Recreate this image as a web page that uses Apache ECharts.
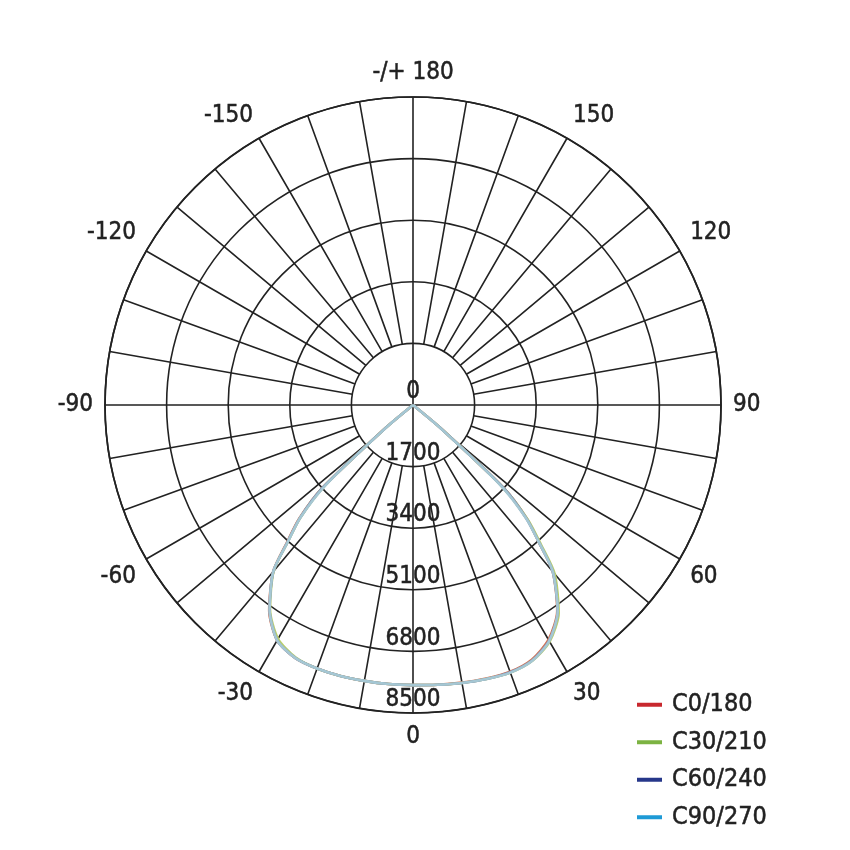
<!DOCTYPE html>
<html><head><meta charset="utf-8">
<script src="https://cdn.jsdelivr.net/npm/echarts@6/dist/echarts.min.js"></script>
<style>html,body{margin:0;padding:0;background:#fff}#c{width:850px;height:850px}</style>
</head><body><div id="c"></div>
<script>
// Gamma angles (degrees, 0 = downward)
const angles = [-180, -55, -50, -47.5, -45, -42.5, -40, -35, -30, -25, -20, -15, -10, -5, 0, 5, 10, 15, 20, 25, 30, 35, 40, 42.5, 45, 47.5, 50, 55, 180];
// Luminous intensity per C-plane (cd)
const c0_180  = [0, 0, 1050, 3400, 4450, 5150, 6000, 6920, 7500, 7700, 7740, 7740, 7730, 7730, 7730, 7750, 7780, 7815, 7835, 7755, 7480, 6940, 6000, 5150, 4450, 3400, 1050, 0, 0];
const c30_210 = [0, 0, 1000, 3350, 4400, 5100, 5980, 6880, 7450, 7680, 7740, 7740, 7730, 7730, 7730, 7750, 7790, 7830, 7860, 7790, 7540, 7010, 6080, 5230, 4480, 3380, 1050, 0, 0];
const c60_240 = [0, 0, 1000, 3400, 4420, 5120, 6000, 6900, 7500, 7700, 7740, 7740, 7730, 7730, 7730, 7750, 7790, 7830, 7850, 7780, 7510, 6960, 6000, 5150, 4420, 3400, 1000, 0, 0];
const c90_270 = [0, 0, 950, 3250, 4400, 5100, 6000, 6900, 7500, 7700, 7740, 7740, 7730, 7730, 7730, 7750, 7790, 7830, 7860, 7790, 7520, 6960, 6000, 5150, 4400, 3250, 950, 0, 0];
const seriesNames = ['C0/180', 'C30/210', 'C60/240', 'C90/270'];
const seriesValues = [c0_180, c30_210, c60_240, c90_270];
const radiusMax = 8500;
const radiusStep = 1700;

const legendColors = ['#c8282e', '#7cb342', '#26378a', '#1e9ad6'];
const curveColors = ['#d8704e', '#b9cf6c', '#8193bb', '#a5c7d3'];
const FONT = 'DejaVu Sans Condensed';
const TXT = '#222';
const LINE = '#222';
const CX = 413, CY = 405, R = 308;
const TEXT_BOLDEN = {textBorderColor: TXT, textBorderWidth: 0.5};

const chart = echarts.init(document.getElementById('c'), null, {renderer: 'canvas'});

function angleAxisBase(idx) {
  return {
    polarIndex: idx, type: 'value', min: 0, max: 360, startAngle: 270, clockwise: false,
    axisTick: {show: false}, axisLabel: {show: false}, axisLine: {show: false},
    splitLine: {show: false}, splitArea: {show: false}
  };
}
function radiusAxisBase(idx) {
  return {
    polarIndex: idx, type: 'value', min: 0, max: radiusMax, interval: radiusStep,
    axisTick: {show: false}, axisLabel: {show: false}, axisLine: {show: false},
    splitLine: {show: false}, splitArea: {show: false}
  };
}

const a0 = angleAxisBase(0);
a0.interval = 10;
a0.splitLine = {show: true, lineStyle: {color: LINE, width: 1.6}};

const a1 = angleAxisBase(1);
a1.interval = 30;
a1.axisLine = {show: true, lineStyle: {color: LINE, width: 1.7}};
a1.axisLabel = Object.assign({
  show: true, margin: 12, fontFamily: FONT, fontSize: 24, color: TXT,
  formatter: function (v) {
    if (v === 360) return '';
    if (v === 180) return '-/+ 180';
    return String(v > 180 ? v - 360 : v);
  }
}, TEXT_BOLDEN);

const a2 = angleAxisBase(2);
a2.interval = 90;
a2.splitLine = {show: true, lineStyle: {color: LINE, width: 1.6}};

const r1 = radiusAxisBase(1);
r1.splitLine = {show: true, lineStyle: {color: LINE, width: 1.6}};
r1.axisLabel = Object.assign({
  show: true, margin: 0, align: 'center', verticalAlign: 'bottom',
  fontFamily: FONT, fontSize: 24, color: TXT, padding: [0, 0, 1, 0],
  showMinLabel: true, showMaxLabel: true,
  formatter: function (v) { return String(v); }
}, TEXT_BOLDEN);

chart.setOption({
  animation: false,
  backgroundColor: '#fff',
  polar: [
    {center: [CX, CY], radius: [R / 5, R]},
    {center: [CX, CY], radius: [0, R]},
    {center: [CX, CY], radius: [0, R / 5]}
  ],
  angleAxis: [a0, a1, a2],
  radiusAxis: [radiusAxisBase(0), r1, radiusAxisBase(2)],
  legend: {
    data: seriesNames,
    orient: 'vertical', left: 632, top: 687,
    itemWidth: 25, itemHeight: 4, itemGap: 12, icon: 'rect',
    itemStyle: {opacity: 1},
    textStyle: Object.assign({fontFamily: FONT, fontSize: 25, color: TXT, lineHeight: 25, padding: [0, 0, 0, 5]}, TEXT_BOLDEN),
    selectedMode: false
  },
  series: seriesNames.map(function (name, i) {
    return {
      type: 'line', name: name, coordinateSystem: 'polar', polarIndex: 1,
      data: angles.map(function (a, j) { return [seriesValues[i][j], (a + 360) % 360]; }),
      symbol: 'none', showSymbol: false, silent: true, z: 10 + i,
      smooth: 0.25,
      itemStyle: {color: legendColors[i]},
      lineStyle: {color: curveColors[i], width: 2.6}
    };
  })
});
</script></body></html>
